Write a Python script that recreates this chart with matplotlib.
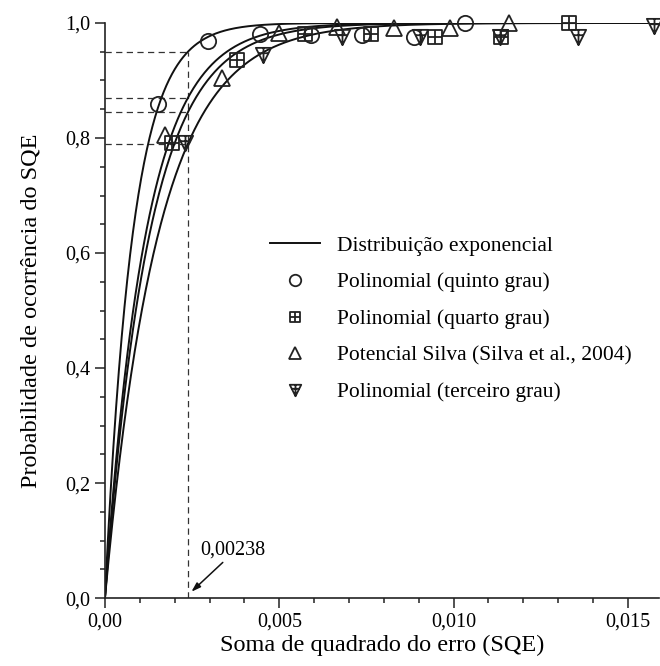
import numpy as np
import matplotlib
matplotlib.use("Agg")
import matplotlib.pyplot as plt
from matplotlib.path import Path

plt.rcParams['font.family'] = ['Liberation Serif', 'DejaVu Serif']

# exponential distribution rates (1/SQE) of the four fitted curves
rates = [1259, 857, 783, 656]
threshold = 0.00238
levels = [0.95, 0.87, 0.845, 0.79]

# empirical points
x_quinto = [0.00151, 0.00297, 0.00445, 0.00591, 0.00736, 0.00886, 0.01033]
y_quinto = [0.859, 0.969, 0.980, 0.979, 0.979, 0.976, 1.0]
x_quarto = [0.00192, 0.0038, 0.00573, 0.00762, 0.00948, 0.01137, 0.01330]
y_quarto = [0.791, 0.936, 0.980, 0.980, 0.976, 0.976, 1.0]
x_silva = [0.00171, 0.00337, 0.0050, 0.00666, 0.00829, 0.00991, 0.01159]
y_silva = [0.805, 0.904, 0.982, 0.993, 0.991, 0.991, 1.0]
x_terceiro = [0.00230, 0.00452, 0.00680, 0.00905, 0.01133, 0.01357, 0.01576]
y_terceiro = [0.791, 0.944, 0.976, 0.976, 0.976, 0.976, 0.995]

xticks = [0, 0.005, 0.010, 0.015]
xticklabels = ["0,00", "0,005", "0,010", "0,015"]
yticks = [0, 0.2, 0.4, 0.6, 0.8, 1.0]
yticklabels = ["0,0", "0,2", "0,4", "0,6", "0,8", "1,0"]

M, L, C = Path.MOVETO, Path.LINETO, Path.CLOSEPOLY
sq_cross = Path([(-1, -1), (1, -1), (1, 1), (-1, 1), (-1, -1),
                 (0, -1), (0, 1), (-1, 0), (1, 0)],
                [M, L, L, L, C, M, L, M, L])
tri_cross = Path([(-1, 1), (1, 1), (0, -1), (-1, 1),
                  (0, 1), (0, -1), (-0.65, 0.3), (0.65, 0.3)],
                 [M, L, L, C, M, L, M, L])

fig = plt.figure(figsize=(6.6, 6.66), dpi=100)
ax = fig.add_axes([0.159, 0.102, 0.84, 0.8635])

xs = np.linspace(0, 0.016, 600)
for i, r in enumerate(rates):
    ax.plot(xs, 1 - np.exp(-r * xs), color='#111111', lw=1.4,
            label="Distribuição exponencial" if i == 0 else None, zorder=2)

dash = dict(color='#333333', lw=0.9, ls=(0, (5, 3.5)), zorder=1)
ax.plot([threshold, threshold], [0, max(levels)], **dash)
for lv in levels:
    ax.plot([0, threshold], [lv, lv], **dash)

mk = dict(ls='none', mfc='none', mec='#222222', mew=1.3, clip_on=False, zorder=3)
ax.plot(x_quinto, y_quinto, marker='o', ms=11, label="Polinomial (quinto grau)", **mk)
ax.plot(x_quarto, y_quarto, marker=sq_cross, ms=10, label="Polinomial (quarto grau)", **mk)
ax.plot(x_silva, y_silva, marker='^', ms=11, label="Potencial Silva (Silva et al., 2004)", **mk)
ax.plot(x_terceiro, y_terceiro, marker=tri_cross, ms=11, label="Polinomial (terceiro grau)", **mk)

ax.text(0.00367, 0.083, "0,00238", ha='center', va='center', fontsize=14.5)
ax.annotate("", xy=(0.00248, 0.011), xytext=(0.00338, 0.062),
            arrowprops=dict(arrowstyle='-|>,head_length=0.55,head_width=0.18',
                            color='#111111', lw=1.1, shrinkA=0, shrinkB=0))

ax.set_xlim(0, 0.0159)
ax.set_ylim(0, 1.0)
ax.set_xticks(xticks)
ax.set_xticklabels(xticklabels)
ax.set_yticks(yticks)
ax.set_yticklabels(yticklabels)
ax.set_xticks(np.arange(0, 0.0159, 0.001), minor=True)
ax.set_yticks(np.arange(0, 1.001, 0.05), minor=True)
ax.tick_params(which='major', direction='out', length=7, width=1.1, labelsize=14.5, color='#222222')
ax.tick_params(which='minor', direction='out', length=3.5, width=1.1, color='#222222')
for s in ['top', 'right']:
    ax.spines[s].set_visible(False)
for s in ['left', 'bottom']:
    ax.spines[s].set_linewidth(1.2)
    ax.spines[s].set_color('#222222')

ax.set_xlabel("Soma de quadrado do erro (SQE)", fontsize=17.5, labelpad=2)
ax.set_ylabel("Probabilidade de ocorrência do SQE", fontsize=17.5, labelpad=17)

ax.legend(loc='upper left', bbox_to_anchor=(0.297, 0.630), frameon=False,
          fontsize=15.5, borderpad=0, borderaxespad=0, handlelength=2.33,
          handletextpad=0.8, labelspacing=0.77, numpoints=1, markerscale=0.75)

fig.savefig("out.png", dpi=100)
